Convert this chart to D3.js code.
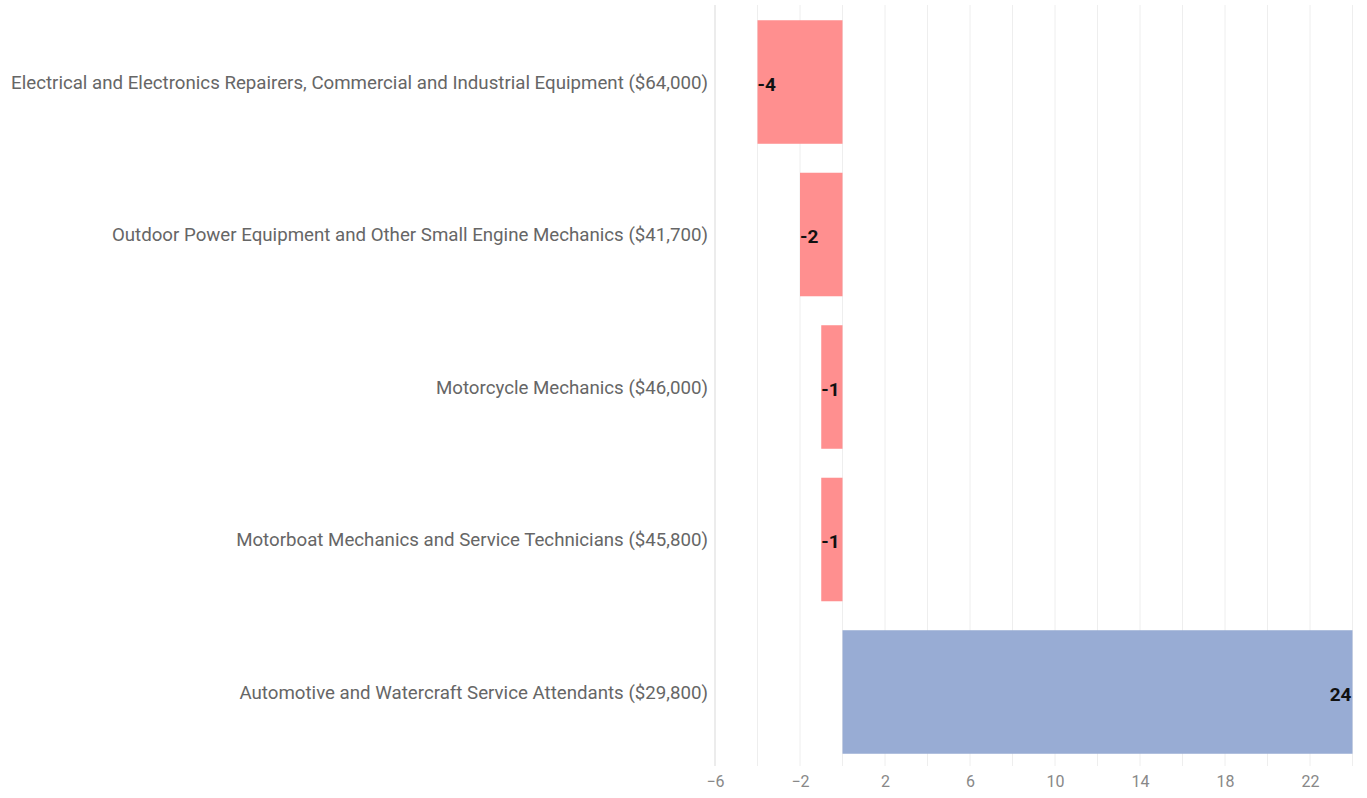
<!DOCTYPE html>
<html><head><meta charset="utf-8">
<script src="https://cdn.jsdelivr.net/npm/d3@7"></script>
<style>body{margin:0;background:#fff;font-family:Roboto,"Noto Sans",sans-serif;}</style>
</head><body><svg id="c" width="1367" height="798"></svg>
<script>
const categories = [
  "Electrical and Electronics Repairers, Commercial and Industrial Equipment ($64,000)",
  "Outdoor Power Equipment and Other Small Engine Mechanics ($41,700)",
  "Motorcycle Mechanics ($46,000)",
  "Motorboat Mechanics and Service Technicians ($45,800)",
  "Automotive and Watercraft Service Attendants ($29,800)"
];
const values = [-4, -2, -1, -1, 24];
const tickValues = [-6, -2, 2, 6, 10, 14, 18, 22];

const svg = d3.select("#c");
const x = d3.scaleLinear().domain([-6, 24]).range([715, 1352.5]);
const y = d3.scaleBand().domain(categories).range([5, 769]).paddingInner(0.19).paddingOuter(0.1);

// gridlines
svg.append("g").selectAll("line").data(d3.range(-4, 25, 2)).join("line")
  .attr("x1", d => x(d)).attr("x2", d => x(d)).attr("y1", 5).attr("y2", 766)
  .attr("stroke", "#eeeeee").attr("stroke-width", 1);
// left axis line
svg.append("line").attr("x1", 715).attr("x2", 715).attr("y1", 5).attr("y2", 766)
  .attr("stroke", "#d9d9d9").attr("stroke-width", 1);

// bars
svg.append("g").selectAll("rect").data(values).join("rect")
  .attr("x", d => x(Math.min(0, d)))
  .attr("width", d => Math.abs(x(d) - x(0)))
  .attr("y", (d, i) => y(categories[i]))
  .attr("height", y.bandwidth())
  .attr("fill", d => d < 0 ? "#ff8f8f" : "#98acd4");

// value labels
svg.append("g").selectAll("text").data(values).join("text")
  .attr("x", d => d < 0 ? x(d) : x(d) - 1)
  .attr("y", (d, i) => y(categories[i]) + y.bandwidth() / 2 + 2)
  .attr("dy", "0.35em")
  .attr("text-anchor", d => d < 0 ? "start" : "end")
  .attr("font-size", 19).attr("font-weight", "bold").attr("fill", "#111")
  .text(d => d);

// category labels
svg.append("g").selectAll("text").data(categories).join("text")
  .attr("x", 708)
  .attr("y", d => y(d) + y.bandwidth() / 2)
  .attr("dy", "0.35em")
  .attr("text-anchor", "end")
  .attr("font-size", 18.7).attr("fill", "#666")
  .text(d => d);

// x axis tick labels
const ax = svg.append("g").attr("transform", "translate(0,766)")
  .call(d3.axisBottom(x).tickValues(tickValues).tickSize(0).tickPadding(10).tickFormat(d3.format("d")));
ax.select(".domain").remove();
ax.selectAll("text").attr("font-size", 16).attr("fill", "#888").attr("font-family", "Roboto,sans-serif");
</script></body></html>
